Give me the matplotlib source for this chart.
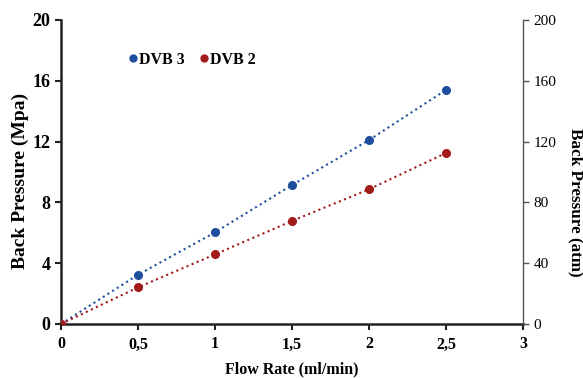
import matplotlib
matplotlib.use("Agg")
import matplotlib.pyplot as plt

# flow rate (ml/min) and back pressure (MPa)
flow = [0, 0.5, 1.0, 1.5, 2.0, 2.5]
dvb3 = [0, 3.24, 6.03, 9.14, 12.1, 15.4]
dvb2 = [0, 2.41, 4.58, 6.78, 8.86, 11.25]

x_ticks = [0, 0.5, 1, 1.5, 2, 2.5, 3]
x_labels = ["0", "0,5", "1", "1,5", "2", "2,5", "3"]
left_ticks = [0, 4, 8, 12, 16, 20]
right_ticks = [0, 40, 80, 120, 160, 200]

blue = "#1f4e9e"
red = "#a31a1a"

plt.rcParams['font.family'] = ['Liberation Serif', 'DejaVu Serif']

fig = plt.figure(figsize=(5.83, 3.78), dpi=100)
ax = fig.add_axes([61 / 583, 1 - 324 / 378, (523 - 61) / 583, (324 - 20) / 378])

ax.plot(flow, dvb3, linestyle=':', color=blue, lw=1.5, marker='o', ms=5.5,
        label='DVB 3', zorder=3)
ax.plot(flow, dvb2, linestyle=':', color=red, lw=1.5, marker='o', ms=5.5,
        label='DVB 2', zorder=4)

ax.set_xlim(0, 3)
ax.set_ylim(0, 20)
ax.set_xticks(x_ticks)
ax.set_xticklabels(x_labels, fontweight='bold', fontsize=11.5)
ax.set_yticks(left_ticks)
ax.set_yticklabels([str(t) for t in left_ticks], fontweight='bold', fontsize=13)
ax.tick_params(direction='out', length=4, width=1.5, color='#222222')
ax.tick_params(axis='x', pad=5)

for s in ['top', 'right']:
    ax.spines[s].set_visible(False)
for s in ['left', 'bottom']:
    ax.spines[s].set_linewidth(1.8)
    ax.spines[s].set_color('#222222')

ax.set_xlabel('Flow Rate (ml/min)', fontweight='bold', fontsize=11.5)
ax.xaxis.set_label_coords(0.5, -0.122)
ax.set_ylabel('Back Pressure (Mpa)', fontweight='bold', fontsize=14)
ax.yaxis.set_label_coords(-0.07, 0.47)

ax2 = ax.twinx()
ax2.set_ylim(0, 200)
ax2.set_yticks(right_ticks)
ax2.set_yticklabels([str(t) for t in right_ticks], fontsize=11)
ax2.tick_params(direction='out', length=4, width=1, color='#555555')
for s in ['top', 'left', 'bottom']:
    ax2.spines[s].set_visible(False)
ax2.spines['right'].set_color('#555555')
ax2.spines['right'].set_linewidth(1.0)
ax2.set_ylabel('Back Pressure (atm)', fontweight='bold', fontsize=12.3,
               rotation=-90, va='center')
ax2.yaxis.set_label_coords(1.113, 0.40)

leg = ax.legend(loc='center left', bbox_to_anchor=(0.145, 0.87), ncol=2, frameon=False,
                prop={'weight': 'bold', 'size': 11.5}, handlelength=0.6,
                handletextpad=0.1, columnspacing=0.9, markerscale=0.9,
                borderaxespad=0, borderpad=0)
for h in leg.legend_handles:
    h.set_linestyle('')

fig.savefig('out.png', dpi=100)
